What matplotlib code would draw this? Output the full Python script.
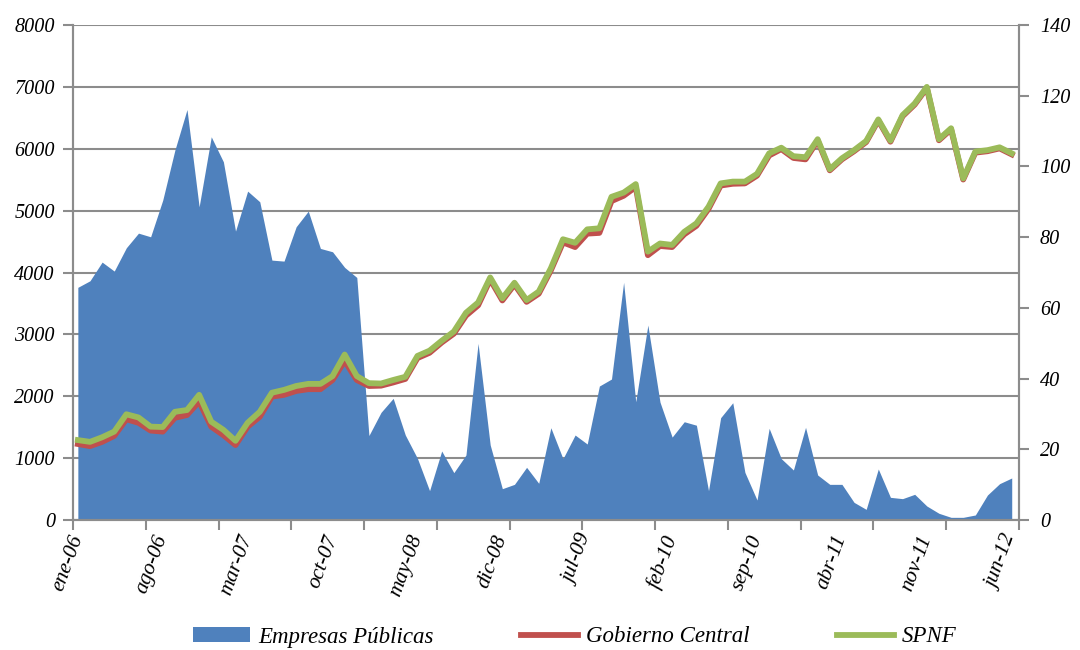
#!/usr/bin/env python3
"""Empresas Públicas vs Gobierno Central / SPNF — matplotlib"""
import numpy as np
import matplotlib
matplotlib.use('Agg')
import matplotlib.pyplot as plt
import matplotlib.transforms as mtransforms
from matplotlib.patches import Patch
from matplotlib.lines import Line2D

# ============================================================
#  Data (monthly, ene-06 .. jun-12)
# ============================================================
MESES = ['ene', 'feb', 'mar', 'abr', 'may', 'jun',
         'jul', 'ago', 'sep', 'oct', 'nov', 'dic']
categorias = [f'{MESES[m % 12]}-{6 + m // 12:02d}' for m in range(78)]

empresas_publicas = [
    3760, 3866, 4168, 4023, 4400, 4636, 4577, 5170, 5977, 6634,
    5062, 6193, 5789, 4669, 5315, 5143, 4200, 4184, 4739, 4992,
    4389, 4335, 4082, 3920, 1365, 1740, 1966, 1373, 996, 474,
    1115, 765, 1050, 2854, 1212, 506, 576, 851, 593, 1491,
    991, 1373, 1228, 2165, 2278, 3840, 1911, 3150, 1905, 1340,
    1588, 1532, 474, 1653, 1895, 770, 323, 1481, 991, 808,
    1497, 727, 576, 576, 285, 172, 824, 366, 345, 415,
    226, 108, 43, 43, 81, 404, 587, 679,
]

gobierno_central = [
    21.5, 20.9, 22.1, 23.8, 28.5, 27.5, 25.3, 25.0, 28.9, 29.7,
    33.5, 26.4, 24.0, 21.2, 26.4, 29.2, 34.9, 35.4, 36.5, 37.0,
    37.0, 39.6, 45.0, 39.6, 37.9, 38.0, 38.9, 39.9, 45.8, 47.3,
    50.2, 52.7, 57.8, 60.7, 68.0, 62.1, 66.6, 61.7, 64.0, 70.6,
    78.5, 77.2, 81.0, 81.2, 90.2, 91.7, 94.2, 74.9, 77.5, 77.2,
    80.8, 83.2, 88.0, 94.6, 95.1, 95.2, 97.4, 103.1, 104.9, 102.4,
    102.0, 107.3, 98.9, 102.0, 104.3, 106.9, 113.0, 107.0, 114.2, 117.5,
    122.2, 107.4, 110.5, 96.3, 103.9, 104.3, 105.1, 103.4,
]

spnf = [
    22.6, 22.1, 23.4, 25.0, 29.9, 29.0, 26.4, 26.3, 30.6, 31.1,
    35.4, 27.8, 25.5, 22.4, 27.5, 30.6, 36.0, 36.8, 37.9, 38.5,
    38.5, 40.7, 46.8, 40.7, 38.7, 38.6, 39.6, 40.5, 46.4, 47.9,
    50.7, 53.3, 58.6, 61.5, 68.6, 62.7, 67.1, 62.2, 64.6, 71.2,
    79.4, 78.4, 82.2, 82.5, 91.4, 92.6, 95.0, 75.9, 78.2, 77.8,
    81.5, 83.9, 88.6, 95.2, 95.7, 95.7, 97.9, 103.7, 105.3, 102.9,
    102.6, 107.7, 99.2, 102.3, 104.6, 107.2, 113.3, 107.3, 114.5, 117.8,
    122.5, 107.7, 110.8, 96.6, 104.2, 104.6, 105.4, 103.7,
]

# ============================================================
#  Style
# ============================================================
AZUL, ROJO, VERDE = '#4F81BD', '#C0504D', '#9BBB59'
GRIS = '#8C8C8C'
plt.rcParams['font.family'] = ['Liberation Serif', 'DejaVu Serif']
plt.rcParams['font.style'] = 'italic'
FS_Y = 14.5   # y tick labels
FS_X = 15.5   # x labels
FS_L = 16.5   # legend

x = np.arange(len(categorias))

fig = plt.figure(figsize=(10.8, 6.5), dpi=100)
ax = fig.add_axes([73/1080, 1 - 520/650, (1019 - 73)/1080, (520 - 25)/650])
ax2 = ax.twinx()

# area (left axis)
ax.fill_between(x, empresas_publicas, 0, color=AZUL, lw=0, zorder=2)
ax.set_ylim(0, 8000)
ax.set_yticks(np.arange(0, 8001, 1000))
ax.grid(axis='y', color=GRIS, lw=1.5, zorder=0)
ax.set_axisbelow(True)

# lines (right axis)
ax2.plot(x, gobierno_central, color=ROJO, lw=4.2, solid_joinstyle='round', zorder=3)
ax2.plot(x, spnf, color=VERDE, lw=4.2, solid_joinstyle='round', zorder=4)
ax2.set_ylim(0, 140)
ax2.set_yticks(np.arange(0, 141, 20))

# x axis: tick marks every 6 months, labels every 7
ax.set_xlim(-0.4, 77.6)
ax.set_xticks(np.arange(-0.4, 77.7, 6))
ax.set_xticklabels([])
ax.set_xticks(x[::7], [categorias[i] for i in x[::7]], minor=True)
ax.tick_params(axis='x', which='minor', length=0, pad=9, labelsize=FS_X,
               labelrotation=70)
shift = mtransforms.ScaledTranslation(-9/100, 0, fig.dpi_scale_trans)
for lbl in ax.get_xticklabels(minor=True):
    lbl.set_ha('right')
    lbl.set_va('top')
    lbl.set_rotation_mode('anchor')
    lbl.set_transform(lbl.get_transform() + shift)

for a in (ax, ax2):
    a.spines['top'].set_visible(False)
    for s in ('left', 'right', 'bottom'):
        a.spines[s].set_color(GRIS)
        a.spines[s].set_linewidth(1.5)
    a.tick_params(axis='both', which='major', color=GRIS, width=1.5, length=7,
                  labelsize=FS_Y, direction='out')
ax.tick_params(axis='y', pad=6)
ax2.tick_params(axis='y', pad=8)

# legend
handles = [Patch(facecolor=AZUL, edgecolor='none'),
           Line2D([], [], color=ROJO, lw=4.2),
           Line2D([], [], color=VERDE, lw=4.2)]
fig.legend(handles, ['Empresas Públicas', 'Gobierno Central', 'SPNF'],
           loc='center', bbox_to_anchor=(575/1080, 1 - 637/650), ncol=3,
           frameon=False, fontsize=FS_L, handlelength=2.5, handleheight=0.6,
           columnspacing=3.8, handletextpad=0.35)

plt.savefig('out.png', dpi=100)
plt.close()
